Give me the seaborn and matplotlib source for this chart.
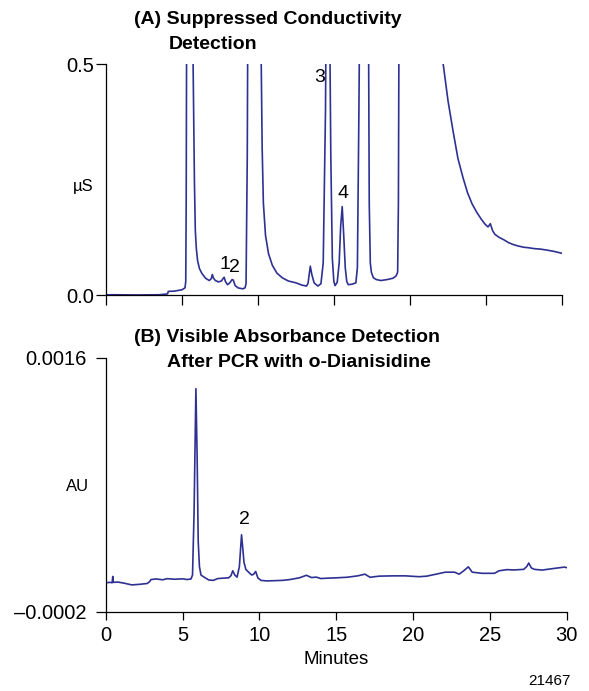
import pandas as pd
import matplotlib
matplotlib.use('Agg')
import matplotlib.pyplot as plt
import seaborn as sns

# (A) suppressed conductivity trace (values above 0.5 are off-scale tops)
cond_time = [0.0, 0.5, 1.0, 1.5, 2.0, 2.5, 3.0, 3.5, 3.9, 4.05, 4.1, 4.5, 5.0, 5.2,
             5.25, 5.28, 5.31, 5.5, 5.7, 5.76, 5.82, 5.88, 5.95, 6.03, 6.15, 6.3, 6.55,
             6.8, 6.93, 7.0, 7.08, 7.2, 7.4, 7.6, 7.7, 7.78, 7.86, 8.0, 8.15, 8.3, 8.38,
             8.5, 8.7, 9.0, 9.15, 9.22, 9.3, 9.36, 9.8, 10.18, 10.22, 10.28, 10.36, 10.5,
             10.7, 10.95, 11.25, 11.6, 12.0, 12.5, 12.9, 13.2, 13.3, 13.38, 13.45, 13.55,
             13.7, 13.95, 14.15, 14.3, 14.45, 14.55, 14.62, 14.7, 14.8, 14.9, 15.0, 15.08,
             15.22, 15.35, 15.45, 15.55, 15.65, 15.75, 15.85, 15.95, 16.2, 16.45, 16.55,
             16.65, 16.72, 17.0, 17.28, 17.33, 17.4, 17.47, 17.6, 17.8, 18.1, 18.5, 18.9,
             19.1, 19.2, 19.25, 19.3, 20.5, 22.0, 22.2, 22.52, 22.85, 23.17, 23.5, 23.8,
             24.1, 24.4, 24.7, 24.95, 25.15, 25.3, 25.45, 25.6, 25.9, 26.2, 26.5, 26.8,
             27.1, 27.5, 27.8, 28.2, 28.6, 29.0, 29.5, 30.0]
cond_us = [0.001, 0.0012, 0.001, 0.0008, 0.0008, 0.0009, 0.0008, 0.0012, 0.0025, 0.003,
           0.0085, 0.009, 0.012, 0.016, 0.03, 0.2, 0.6, 1.2, 0.6, 0.4, 0.25, 0.14, 0.1,
           0.075, 0.058, 0.048, 0.037, 0.032, 0.036, 0.045, 0.037, 0.032, 0.029, 0.031,
           0.036, 0.039, 0.03, 0.023, 0.027, 0.034, 0.033, 0.021, 0.016, 0.014, 0.016,
           0.025, 0.3, 0.8, 1.5, 0.7, 0.5, 0.32, 0.2, 0.13, 0.09, 0.065, 0.048, 0.038,
           0.031, 0.027, 0.022, 0.02, 0.026, 0.045, 0.063, 0.045, 0.027, 0.02, 0.025,
           0.07, 0.4, 0.9, 1.0, 0.7, 0.3, 0.08, 0.03, 0.021, 0.028, 0.07, 0.15, 0.192,
           0.13, 0.06, 0.03, 0.023, 0.024, 0.027, 0.06, 0.4, 0.7, 1.3, 0.6, 0.2, 0.07,
           0.05, 0.038, 0.034, 0.032, 0.034, 0.037, 0.042, 0.05, 0.2, 0.7, 2.5, 0.6, 0.5,
           0.42, 0.355, 0.296, 0.255, 0.222, 0.198, 0.18, 0.165, 0.154, 0.148, 0.155,
           0.14, 0.132, 0.125, 0.12, 0.114, 0.11, 0.107, 0.104, 0.103, 0.101, 0.1, 0.098,
           0.095, 0.091]

# (B) visible absorbance trace
abs_time = [0.0, 0.3, 0.42, 0.46, 0.5, 0.8, 1.2, 1.7, 2.2, 2.7, 2.85, 2.95, 3.3, 3.7,
            4.0, 4.5, 5.0, 5.3, 5.55, 5.65, 5.75, 5.87, 5.95, 6.02, 6.1, 6.2, 6.4, 6.7,
            7.0, 7.3, 7.7, 8.0, 8.15, 8.27, 8.4, 8.55, 8.7, 8.84, 8.92, 9.0, 9.12, 9.3,
            9.5, 9.62, 9.76, 9.9, 10.1, 10.5, 11.0, 11.5, 12.0, 12.6, 13.06, 13.4, 13.7,
            14.0, 14.5, 15.0, 15.7, 16.4, 16.87, 17.2, 17.8, 18.7, 19.5, 20.4, 20.9, 21.5,
            22.1, 22.7, 23.0, 23.3, 23.6, 23.85, 24.5, 25.3, 25.6, 26.1, 26.6, 27.2, 27.4,
            27.53, 27.7, 27.9, 28.4, 29.2, 29.85, 30.0]
abs_au = [0.000005, 0.000008, 0.000005, 0.00005, 0.000008, 0.00001, 0.000002, -0.00001,
          -0.000006, 0.0, 0.000012, 0.000028, 0.000032, 0.000026, 0.000034, 0.00003,
          0.000033, 0.000028, 0.000032, 0.00006, 0.0005, 0.00138, 0.0009, 0.0003,
          0.00012, 0.00006, 0.000045, 0.000025, 0.000022, 0.000035, 0.000038, 0.00004,
          0.000055, 0.00009, 0.00006, 0.000045, 0.00012, 0.000345, 0.00025, 0.00015,
          0.0001, 0.00008, 0.00006, 0.000065, 0.000085, 0.00004, 0.000022, 0.000018,
          0.00002, 0.000022, 0.000028, 0.00004, 0.000058, 0.000042, 0.000045, 0.000035,
          0.000038, 0.00004, 0.000044, 0.000054, 0.000066, 0.000044, 0.000052, 0.000054,
          0.000054, 0.000048, 0.000052, 0.000066, 0.00008, 0.00008, 0.000066, 0.00009,
          0.000118, 0.00008, 0.000072, 0.000072, 0.00009, 0.000098, 0.000096, 0.0001,
          0.00012, 0.000145, 0.00011, 0.0001, 0.000095, 0.000107, 0.000116, 0.000112]

minute_ticks = [0, 5, 10, 15, 20, 25, 30]

sns.set_style('ticks')
plt.rcParams['font.family'] = ['Liberation Sans', 'DejaVu Sans']
plt.rcParams['text.color'] = 'black'
plt.rcParams['xtick.color'] = 'black'
plt.rcParams['ytick.color'] = 'black'

W, H = 589, 691
fig = plt.figure(figsize=(W / 100, H / 100), dpi=100)


def px_box(left, top, right, bottom):
    # axes rectangle from pixel edges of the reference
    return [left / W, 1 - bottom / H, (right - left) / W, (bottom - top) / H]


ax1 = fig.add_axes(px_box(106, 64.3, 561.7, 295.3))
ax2 = fig.add_axes(px_box(105.7, 357.7, 566.7, 611.7))

trace = '#2e3192'
cond = pd.DataFrame({'Minutes': cond_time, 'uS': cond_us})
absb = pd.DataFrame({'Minutes': abs_time, 'AU': abs_au})
sns.lineplot(data=cond, x='Minutes', y='uS', ax=ax1, color=trace, lw=1.2,
             estimator=None, sort=False)
sns.lineplot(data=absb, x='Minutes', y='AU', ax=ax2, color=trace, lw=1.2,
             estimator=None, sort=False)

for ax in (ax1, ax2):
    sns.despine(ax=ax)
    for s in ('left', 'bottom'):
        ax.spines[s].set_linewidth(0.9)
        ax.spines[s].set_color('black')
    ax.set_xlim(0, 30)
    ax.set_xticks(minute_ticks)
    ax.set_xlabel('')
    ax.set_ylabel('')

# top panel
ax1.set_ylim(0, 0.5)
ax1.set_yticks([0, 0.5])
ax1.set_yticklabels(['0.0', '0.5'])
ax1.tick_params(axis='x', length=7, width=0.9, labelbottom=False)
ax1.tick_params(axis='y', length=7, width=0.9, pad=1.5, labelsize=14.5)
ax1.text(7.8, 0.066, '1', fontsize=14, ha='center', va='center')
ax1.text(8.45, 0.06, '2', fontsize=14, ha='center', va='center')
ax1.text(14.09, 0.4725, '3', fontsize=14, ha='center', va='center')
ax1.text(15.63, 0.22, '4', fontsize=14, ha='center', va='center')

# bottom panel
ax2.set_ylim(-0.0002, 0.0016)
ax2.set_yticks([-0.0002, 0.0016])
ax2.set_yticklabels(['\u20130.0002', '0.0016'])
ax2.tick_params(axis='x', length=6, width=0.9, pad=4.5, labelsize=14.5)
ax2.tick_params(axis='y', length=7, width=0.9, pad=7, labelsize=14.5)
ax2.text(9.06, 0.000453, '2', fontsize=14, ha='center', va='center')

# titles and labels
fig.text(134 / W, 1 - 19 / H, '(A) Suppressed Conductivity', fontsize=14,
         fontweight='bold', ha='left', va='center')
fig.text(168.7 / W, 1 - 44.5 / H, 'Detection', fontsize=14,
         fontweight='bold', ha='left', va='center')
fig.text(134 / W, 1 - 337.5 / H, '(B) Visible Absorbance Detection', fontsize=14,
         fontweight='bold', ha='left', va='center')
fig.text(166.7 / W, 1 - 362.5 / H, 'After PCR with o-Dianisidine', fontsize=14,
         fontweight='bold', ha='left', va='center')
fig.text(94 / W, 1 - 186.7 / H, '\u00b5S', fontsize=12, ha='right', va='center')
fig.text(89 / W, 1 - 486.7 / H, 'AU', fontsize=12, ha='right', va='center')
fig.text(336 / W, 1 - 659 / H, 'Minutes', fontsize=13.5, ha='center', va='center')
fig.text(549 / W, 1 - 680.7 / H, '21467', fontsize=11, ha='center', va='center')

fig.savefig('out.png', dpi=100)
